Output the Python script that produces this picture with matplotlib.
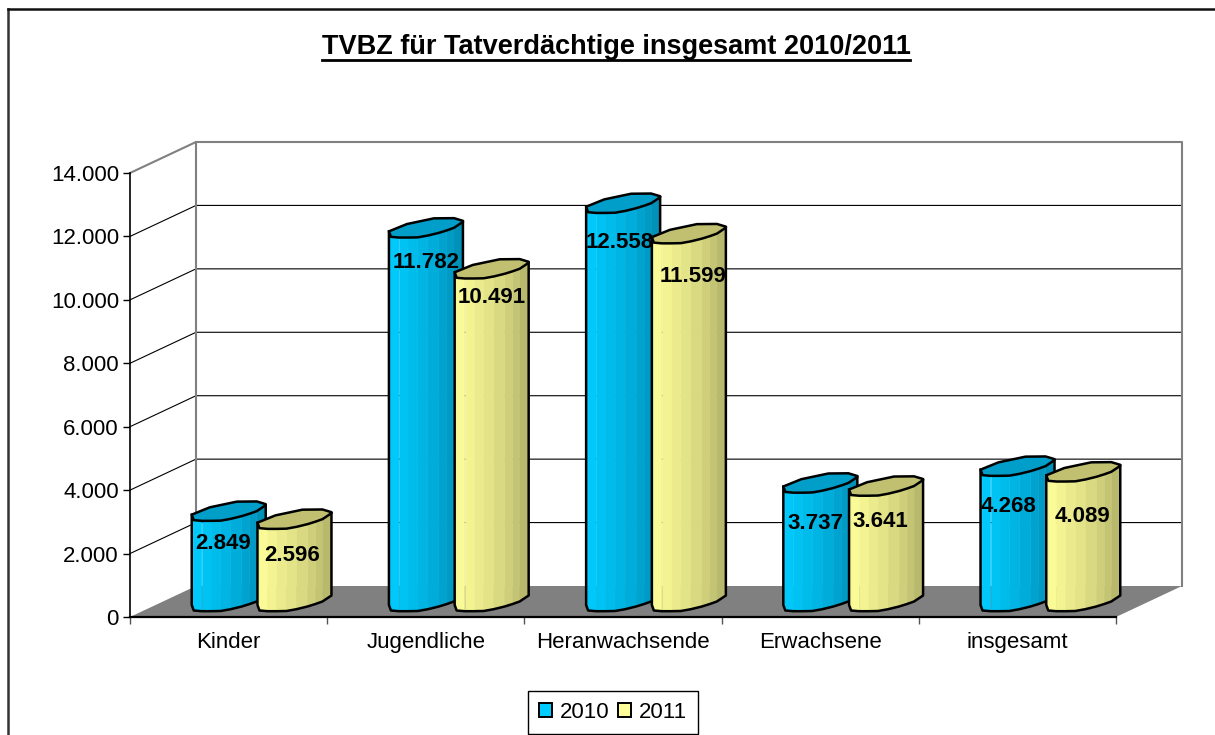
import numpy as np
import matplotlib
matplotlib.use('Agg')
import matplotlib.pyplot as plt
from matplotlib.patches import Patch

plt.rcParams['font.family'] = ['Liberation Sans', 'DejaVu Sans']

categories = ['Kinder', 'Jugendliche', 'Heranwachsende', 'Erwachsene', 'insgesamt']
years = ['2010', '2011']
tvbz_2010 = [2849, 11782, 12558, 3737, 4268]
tvbz_2011 = [2596, 10491, 11599, 3641, 4089]
yticks = [0, 2000, 4000, 6000, 8000, 10000, 12000, 14000]

W, H = 1215, 735
fig = plt.figure(figsize=(W / 100, H / 100), dpi=100, facecolor='white')
ax = fig.add_axes([130 / W, 1 - 617 / H, 986 / W, 444 / H])
ax.set_xlim(0, 5)
ax.set_ylim(0, 14000)
ax.patch.set_visible(False)

# depth of the fake 3d box, in data units
px_x = 5 / 986.
px_y = 14000 / 444.
dep_x = 66 * px_x
dep_y = 31 * px_y

# outer chart frame, runs off the picture at the bottom and right
fig.add_artist(plt.Line2D([8 / W, 8 / W], [0, 1 - 9 / H], color='#333333', lw=1.8))
fig.add_artist(plt.Line2D([8 / W, 1], [1 - 9 / H, 1 - 9 / H], color='#111111', lw=1.8))

# walls and gridlines
for v in yticks[1:-1]:
    ax.plot([0, dep_x, 5 + dep_x], [v, v + dep_y, v + dep_y], color='black', lw=0.8, clip_on=False, zorder=1)
ax.plot([0, dep_x, 5 + dep_x, 5 + dep_x], [14000, 14000 + dep_y, 14000 + dep_y, dep_y],
        color='#808080', lw=1.5, clip_on=False, zorder=1)
ax.plot([dep_x, dep_x], [dep_y, 14000 + dep_y], color='#808080', lw=1.5, clip_on=False, zorder=1)
ax.fill([0, 5, 5 + dep_x, dep_x], [0, 0, dep_y, dep_y], color='#808080', lw=0, clip_on=False, zorder=2)

# cylinder cross section as excel draws it, px from its centre, y up
front_x = np.array([37, 28, 21, 13, 2, -8, -18, -27, -35, -37])
front_y = -np.array([-6, 0, 2.5, 5, 7.7, 9.5, 9.7, 9.7, 9, 3.5])
back_x = np.array([-19, 8, 28, 37])
back_y = -np.array([-3.8, -9.5, -9.7, -7])


def cylinder(x, val, left, right, top, z):
    cx = x + dep_x / 2
    cy = dep_y / 2
    xb = cx + front_x * px_x
    yb = cy + front_y * px_y
    yt = yb + val
    left = np.array(left) / 255.
    right = np.array(right) / 255.
    n = len(front_x) - 1
    for k in range(n):
        f = ((n - 1 - k) / (n - 1.)) ** 1.3
        c = left + (right - left) * f
        ax.fill([xb[k], xb[k + 1], xb[k + 1], xb[k]], [yb[k], yb[k + 1], yt[k + 1], yt[k]],
                facecolor=c, edgecolor=c, lw=0.4, clip_on=False, zorder=z)
    ax.plot(np.r_[xb[0], xb, xb[-1]], np.r_[yt[0], yb, yt[-1]], color='black', lw=1.8,
            clip_on=False, zorder=z + 0.1, solid_joinstyle='round')
    xr = np.r_[xb, cx + back_x * px_x]
    yr = np.r_[yt, cy + val + back_y * px_y]
    ax.fill(xr, yr, facecolor=np.array(top) / 255., edgecolor='black', lw=1.8, clip_on=False,
            zorder=z + 0.2, joinstyle='round')


blue = dict(left=(0, 204, 255), right=(0, 145, 185), top=(0, 158, 200))
yellow = dict(left=(255, 255, 153), right=(185, 185, 110), top=(192, 192, 112))

# label nudges from the bar centre, px
nudge_2010 = [(-6, -32), (0, -35), (-3, -39), (-5, -41), (-9, -40)]
nudge_2011 = [(-2, -36), (0, -29), (4, -43), (-6, -35), (-1, -45)]

for i in range(5):
    x1 = i + 1 / 3.
    x2 = i + 2 / 3.
    cylinder(x1, tvbz_2010[i], z=3 + 2 * i, **blue)
    cylinder(x2, tvbz_2011[i], z=4 + 2 * i, **yellow)
    for x, val, nd in ((x1, tvbz_2010[i], nudge_2010[i]), (x2, tvbz_2011[i], nudge_2011[i])):
        ax.annotate(f'{val:,}'.replace(',', '.'), (x + dep_x / 2, val + dep_y / 2),
                    xytext=(nd[0] * 0.72, nd[1] * 0.72), textcoords='offset points',
                    ha='center', va='center', fontsize=16, fontweight='bold',
                    annotation_clip=False, zorder=30)

# axes
for s in ['top', 'right']:
    ax.spines[s].set_visible(False)
ax.spines['left'].set_linewidth(1.2)
ax.spines['bottom'].set_linewidth(1.6)
ax.spines['left'].set_zorder(2.5)
ax.spines['bottom'].set_zorder(2.5)
ax.set_yticks(yticks)
ax.set_yticklabels([f'{v:,}'.replace(',', '.') for v in yticks], fontsize=16)
ax.set_xticks(range(6))
ax.set_xticklabels([])
ax.set_xticks(np.arange(5) + 0.5, minor=True)
ax.set_xticklabels(categories, minor=True, fontsize=16)
ax.tick_params(axis='y', length=5, width=1, pad=3)
ax.tick_params(axis='x', which='major', length=5, width=1, color='#555555')
ax.tick_params(axis='x', which='minor', length=0, pad=11)

# title with underline
fig.text(616 / W, 1 - 54 / H, 'TVBZ für Tatverdächtige insgesamt 2010/2011', ha='center', va='baseline',
         fontsize=19.5, fontweight='bold')
fig.add_artist(plt.Line2D([322 / W, 910 / W], [1 - 60 / H, 1 - 60 / H], color='black', lw=2))

handles = [Patch(facecolor='#00CCFF', edgecolor='black', lw=1.4),
           Patch(facecolor='#FFFF99', edgecolor='black', lw=1.4)]
leg = fig.legend(handles, years, loc='lower left', bbox_to_anchor=(528 / W, 1 - 734 / H), ncol=2, fontsize=16,
                 fancybox=False, framealpha=1, edgecolor='black', borderaxespad=0, borderpad=0.5,
                 handlelength=0.58, handleheight=0.6, handletextpad=0.35, columnspacing=0.4)
leg.get_frame().set_linewidth(1)

fig.savefig('out.png', dpi=100, facecolor='white')
